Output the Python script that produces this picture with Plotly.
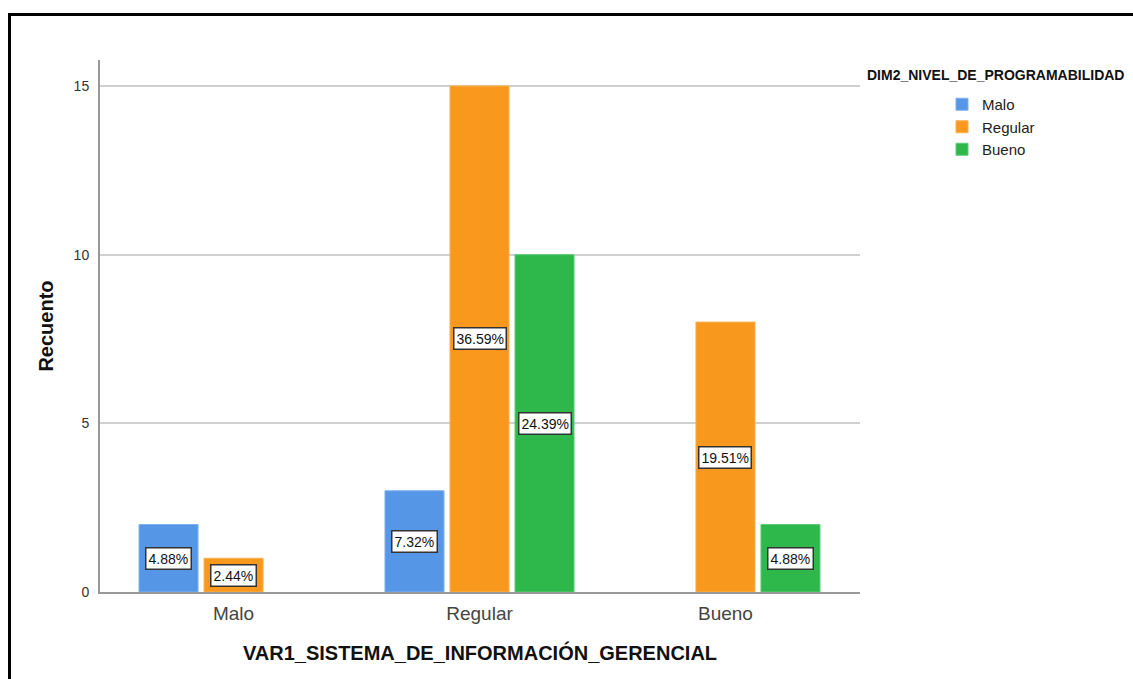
import plotly.graph_objects as go

categories = ["Malo", "Regular", "Bueno"]
series_names = ["Malo", "Regular", "Bueno"]
counts_malo = [2, 3, None]
counts_regular = [1, 15, 8]
counts_bueno = [None, 10, 2]
pct_malo = ["4.88%", "7.32%", None]
pct_regular = ["2.44%", "36.59%", "19.51%"]
pct_bueno = [None, "24.39%", "4.88%"]

colors = ["#5596E6", "#F8981D", "#2EB84B"]
edge_colors = ["#7FB0EE", "#FBB04F", "#5FCB77"]

W, H = 1133, 679
L, R, T, B = 100, 273, 60, 87
BARGAP = 0.207
GROUPGAP = 0.092

fig = go.Figure()
all_counts = [counts_malo, counts_regular, counts_bueno]
all_pcts = [pct_malo, pct_regular, pct_bueno]
for i, name in enumerate(series_names):
    fig.add_trace(go.Bar(
        name=name, x=categories, y=all_counts[i],
        marker=dict(color=colors[i], line=dict(color=edge_colors[i], width=1)),
    ))

# annotation boxes at bar middles
n = len(series_names)
slot = (1 - BARGAP) / n
for i in range(n):
    for j, cat in enumerate(categories):
        v = all_counts[i][j]
        if v is None:
            continue
        xpos = j - (1 - BARGAP) / 2 + slot * (i + 0.5)
        fig.add_annotation(
            x=xpos, y=v / 2, xref="x", yref="y", text=all_pcts[i][j],
            showarrow=False, bgcolor="white", bordercolor="#333333",
            borderwidth=1.5, borderpad=2,
            font=dict(family="Liberation Sans, Arial", size=14, color="#111111"),
        )

pw = W - L - R
ph = H - T - B
def px_to_paper_x(px):
    return (px - L) / pw
def px_to_paper_y(py):
    return (H - B - py) / ph

# legend title as annotation
fig.add_annotation(
    x=px_to_paper_x(996), y=px_to_paper_y(75), xref="paper", yref="paper",
    text="<b>DIM2_NIVEL_DE_PROGRAMABILIDAD</b>", showarrow=False,
    font=dict(family="Liberation Sans, Arial", size=14, color="#111111"),
    xanchor="center", yanchor="middle",
)

# outer frame
fig.add_shape(type="rect", xref="paper", yref="paper",
              x0=px_to_paper_x(9.5), y0=px_to_paper_y(H + 50),
              x1=px_to_paper_x(W + 50), y1=px_to_paper_y(14.5),
              line=dict(color="black", width=3), fillcolor="rgba(0,0,0,0)")

fig.update_layout(
    width=W, height=H,
    margin=dict(l=L, r=R, t=T, b=B),
    paper_bgcolor="white", plot_bgcolor="white",
    barmode="group", bargap=BARGAP, bargroupgap=GROUPGAP,
    font=dict(family="Liberation Sans, Arial", color="#333333"),
    showlegend=True,
    legend=dict(
        x=px_to_paper_x(942), y=px_to_paper_y(88), xanchor="left", yanchor="top",
        font=dict(size=15, color="#222222"), bgcolor="rgba(0,0,0,0)",
        tracegroupgap=0, itemwidth=30,
    ),
    xaxis=dict(
        range=[-0.543, 2.547], showgrid=False, showline=True,
        linecolor="#999999", linewidth=2, ticks="",
        tickfont=dict(size=19, color="#444444"), ticklabelstandoff=3,
        title=dict(text="<b>VAR1_SISTEMA_DE_INFORMACIÓN_GERENCIAL</b>",
                   font=dict(size=20, color="#111111"), standoff=23),
    ),
    yaxis=dict(
        range=[0, 15.77], tickvals=[0, 5, 10, 15], showgrid=True,
        gridcolor="#D0D0D0", gridwidth=1.5, showline=True,
        linecolor="#999999", linewidth=2, ticks="", zeroline=False,
        tickfont=dict(size=14, color="#333333"), ticklabelstandoff=6,
        title=dict(text="<b>Recuento</b>", font=dict(size=20, color="#111111"),
                   standoff=15),
    ),
)

fig.write_html("out.html")
